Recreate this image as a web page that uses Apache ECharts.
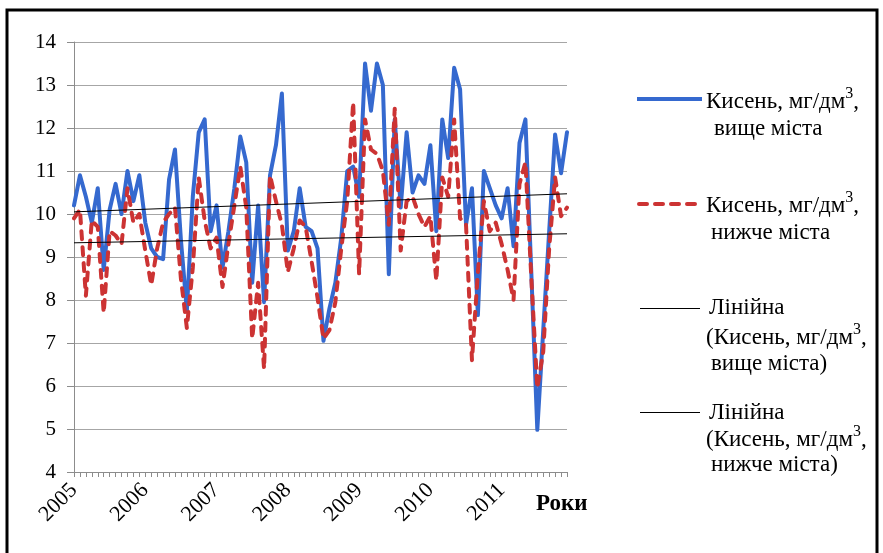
<!DOCTYPE html>
<html><head><meta charset="utf-8">
<script src="https://cdn.jsdelivr.net/npm/echarts@6/dist/echarts.min.js"></script>
<style>html,body{margin:0;padding:0;background:#fff}#c{width:883px;height:553px}</style>
</head><body><div id="c"></div>
<script>
const yearLabels = ['2005','2006','2007','2008','2009','2010','2011'];
const yTicks = [4,5,6,7,8,9,10,11,12,13,14];
// monthly observations, Jan 2005 .. Dec 2011
const aboveCity = [10.2,10.9,10.4,9.8,10.6,8.7,10.1,10.7,10.0,11.0,10.3,10.9,
  9.8,9.2,9.0,8.95,10.8,11.5,9.4,7.75,10.4,11.9,12.2,9.6,
  10.2,8.75,9.6,10.6,11.8,11.2,8.4,10.2,7.95,10.9,11.6,12.8,
  9.15,9.6,10.6,9.7,9.6,9.2,7.05,7.8,8.4,9.45,11.0,11.1,
  10.4,13.5,12.4,13.5,13.0,8.6,12.2,10.15,11.9,10.5,10.9,10.7,
  11.6,9.6,12.2,11.3,13.4,12.9,9.75,10.6,7.65,11.0,10.6,10.2,
  9.9,10.6,9.25,11.65,12.2,8.6,4.98,7.3,9.6,11.85,10.95,11.9];
const belowCity = [9.9,10.1,8.1,9.85,9.7,7.7,9.6,9.5,9.3,10.6,9.8,10.0,
  9.15,8.35,9.2,9.8,10.0,10.15,8.5,7.35,8.75,10.85,9.85,9.2,
  9.45,8.3,9.3,10.2,11.1,10.15,7.1,8.4,6.4,10.9,10.3,9.75,
  8.65,9.2,9.85,9.7,8.9,8.05,7.1,7.3,7.95,9.2,10.3,12.6,
  8.6,12.2,11.5,11.4,11.0,9.75,12.45,9.15,10.3,10.4,10.0,9.7,
  9.95,8.45,10.85,10.4,12.2,9.9,9.75,6.6,8.65,10.3,9.6,9.8,
  9.3,8.7,8.0,10.7,11.2,8.5,5.95,6.8,9.2,10.85,9.95,10.15];
// linear trend end values (first and last month)
const trendAbove = [10.05, 10.47];
const trendBelow = [9.33, 9.54];

const categories = [];
yearLabels.forEach(y => { for (let m = 1; m <= 12; m++) categories.push(y + '-' + (m < 10 ? '0' + m : m)); });
const last = categories.length - 1;

const serif = '"Liberation Serif", "DejaVu Serif", serif';
const BLUE = '#3569cf', RED = '#cc3333';
const chart = echarts.init(document.getElementById('c'), null, {renderer: 'canvas'});

function rt(x, y, text) {
  return { type: 'text', x: x, y: y, style: {
    text: text, verticalAlign: 'middle', align: 'left',
    rich: {
      a: { fontFamily: serif, fontSize: 23, color: '#000', lineHeight: 32 },
      s: { fontFamily: serif, fontSize: 16, color: '#000', lineHeight: 16, verticalAlign: 'top' }
    } } };
}
const lbl = '{a|Кисень, мг/дм}{s|3}{a|,}';
const lbl2 = '{a|(Кисень, мг/дм}{s|3}{a|,}';

chart.setOption({
  animation: false,
  grid: { left: 74, top: 42, width: 493, height: 430, containLabel: false },
  xAxis: {
    type: 'category', data: categories, boundaryGap: false,
    axisLine: { lineStyle: { color: '#8c8c8c', width: 1 } },
    axisTick: { show: true, interval: 0, length: 5, inside: false, lineStyle: { color: '#8c8c8c' } },
    axisLabel: { interval: 11, rotate: 45, margin: 15, fontFamily: serif, fontSize: 22, color: '#000',
      formatter: v => v.slice(0, 4) },
    splitLine: { show: false }
  },
  yAxis: {
    type: 'value', min: yTicks[0], max: yTicks[yTicks.length - 1], interval: 1,
    axisLine: { show: true, lineStyle: { color: '#8c8c8c' } },
    axisTick: { show: true, length: 7, lineStyle: { color: '#8c8c8c' } },
    axisLabel: { fontFamily: serif, fontSize: 21, color: '#000', margin: 18 },
    splitLine: { lineStyle: { color: '#a6a6a6', width: 1 } }
  },
  series: [
    { type: 'line', data: aboveCity, symbol: 'none', z: 3,
      lineStyle: { color: BLUE, width: 4, join: 'round', cap: 'round' } },
    { type: 'line', data: belowCity, symbol: 'none', z: 4,
      lineStyle: { color: RED, width: 4, type: [8, 8], cap: 'round', join: 'round' } },
    { type: 'line', data: [[0, trendAbove[0]], [last, trendAbove[1]]], symbol: 'none', z: 5,
      lineStyle: { color: '#000', width: 1 } },
    { type: 'line', data: [[0, trendBelow[0]], [last, trendBelow[1]]], symbol: 'none', z: 5,
      lineStyle: { color: '#000', width: 1 } }
  ],
  graphic: [
    { type: 'rect', shape: { x: 7, y: 10, width: 870, height: 560 }, style: { fill: 'none', stroke: '#000', lineWidth: 3 }, silent: true },
    { type: 'text', x: 536, y: 504, style: { text: 'Роки', font: 'bold 23px ' + serif, fill: '#000', verticalAlign: 'middle' } },
    { type: 'line', shape: { x1: 637, y1: 99, x2: 702, y2: 99 }, style: { stroke: BLUE, lineWidth: 4 } },
    rt(706, 102, lbl),
    rt(714, 129, '{a|вище міста}'),
    { type: 'line', shape: { x1: 639, y1: 204, x2: 700, y2: 204 }, style: { stroke: RED, lineWidth: 4, lineDash: [8, 8], lineCap: 'round' } },
    rt(706, 206, lbl),
    rt(711, 233, '{a|нижче міста}'),
    { type: 'line', shape: { x1: 640, y1: 308.5, x2: 700, y2: 308.5 }, style: { stroke: '#000', lineWidth: 1 } },
    rt(709, 308, '{a|Лінійна}'),
    rt(706, 338, lbl2),
    rt(711, 364, '{a|вище міста)}'),
    { type: 'line', shape: { x1: 640, y1: 412.5, x2: 700, y2: 412.5 }, style: { stroke: '#000', lineWidth: 1 } },
    rt(709, 413, '{a|Лінійна}'),
    rt(706, 440, lbl2),
    rt(711, 465, '{a|нижче міста)}')
  ]
});
</script></body></html>
